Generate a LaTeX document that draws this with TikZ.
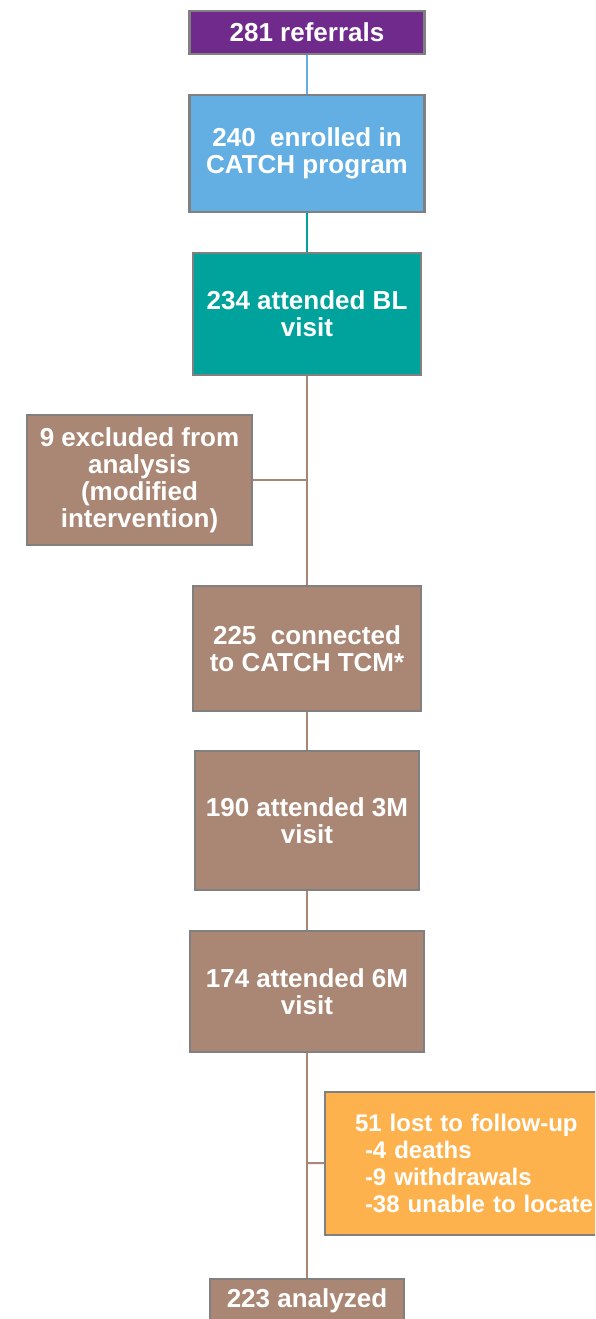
\documentclass[tikz,border=0pt]{standalone}
\usepackage{fontspec}
\setmainfont{Liberation Sans}
\usepackage{tikz}

\definecolor{refpurple}{RGB}{112,42,140}
\definecolor{refblue}{RGB}{99,175,227}
\definecolor{refteal}{RGB}{0,163,155}
\definecolor{refbrown}{RGB}{169,135,116}
\definecolor{reforange}{RGB}{253,178,78}
\definecolor{refgray}{RGB}{128,128,128}

\tikzset{box/.style={draw=refgray,line width=2.5pt,text=white,inner sep=0pt,
  font=\bfseries\fontsize{26}{27}\selectfont,align=center}}

\begin{document}
\begin{tikzpicture}
[x=1pt,y=-1pt]
\clip (0,0) rectangle (595,1319);

\coordinate (b1) at (307,480);
\coordinate (b2) at (307,1163);

\node[box,fill=refpurple,minimum width=235,minimum height=43] (v1) at (307,32.5) {281 referrals};
\node[box,fill=refblue,minimum width=235,minimum height=117] (v2) at (307,153.5) {240\ \ enrolled in\\CATCH program};
\node[box,fill=refteal,minimum width=228,minimum height=122] (v3) at (307,314) {234 attended BL\\visit};

\node[box,fill=refbrown,minimum width=225,minimum height=130] (v4) at (139.5,480) {9 excluded from\\analysis\\(modified\\intervention)};

\node[box,fill=refbrown,minimum width=228,minimum height=125] (v5) at (307,648.5) {225\ \ connected\\to CATCH TCM*};
\node[box,fill=refbrown,minimum width=224,minimum height=139] (v6) at (307,820.5) {190 attended 3M\\visit};
\node[box,fill=refbrown,minimum width=234,minimum height=121] (v7) at (307,991.5) {174 attended 6M\\visit};

\node[box,fill=reforange,minimum width=320,minimum height=143,text width=260,align=left,
  font=\bfseries\fontsize{24}{27}\selectfont] (v8) at (485,1163.5) {51 lost to follow-up\\\hspace*{10pt}-4 deaths\\\hspace*{10pt}-9 withdrawals\\\hspace*{10pt}-38 unable to locate};

\node[box,fill=refbrown,minimum width=194,minimum height=44] (v9) at (307,1301) {223 analyzed};

\foreach \from/\to/\col in {v1/v2/refblue,v2/v3/refteal,v3/v5/refbrown,v5/v6/refbrown,v6/v7/refbrown,v7/v9/refbrown,b1/v4/refbrown,b2/v8/refbrown}
\draw[\col,line width=2pt] (\from) -- (\to);
\end{tikzpicture}
\end{document}
